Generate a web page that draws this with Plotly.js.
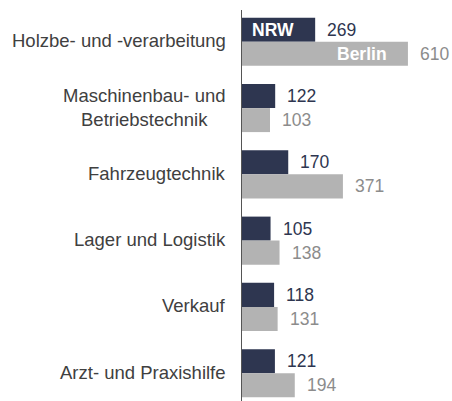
<!DOCTYPE html>
<html>
<head>
<meta charset="utf-8">
<script src="https://cdn.plot.ly/plotly-3.0.1.min.js"></script>
<style>html,body{margin:0;padding:0;background:#fff;}#chart{width:452px;height:401px;}</style>
</head>
<body>
<div id="chart"></div>
<script>
const categories = [
  "Holzbe- und -verarbeitung",
  "Maschinenbau- und<br>Betriebstechnik",
  "Fahrzeugtechnik",
  "Lager und Logistik",
  "Verkauf",
  "Arzt- und Praxishilfe"
];
const nrwValues = [269, 122, 170, 105, 118, 121];
const berlinValues = [610, 103, 371, 138, 131, 194];
const seriesNames = ["NRW", "Berlin"];

const nrwColor = "#2e3650";
const berlinColor = "#b3b3b3";
const font = "Liberation Sans, Arial, sans-serif";

const traces = [
  {type: "bar", orientation: "h", name: seriesNames[0], y: categories, x: nrwValues,
   marker: {color: nrwColor}, hoverinfo: "none"},
  {type: "bar", orientation: "h", name: seriesNames[1], y: categories, x: berlinValues,
   marker: {color: berlinColor}, hoverinfo: "none"}
];

const annotations = [];
// category labels
categories.forEach(c => annotations.push({
  xref: "paper", yref: "y", x: 0, y: c, text: c, showarrow: false,
  xanchor: "right", yanchor: "middle", align: "center", xshift: -14, yshift: 1,
  font: {family: font, size: 18.5, color: "#404040"}
}));
// value labels
categories.forEach((c, i) => {
  annotations.push({x: nrwValues[i], y: c, text: String(nrwValues[i]), showarrow: false,
    xanchor: "left", yanchor: "middle", xshift: 10, yshift: 12,
    font: {family: font, size: 17.5, color: nrwColor}});
  annotations.push({x: berlinValues[i], y: c, text: String(berlinValues[i]), showarrow: false,
    xanchor: "left", yanchor: "middle", xshift: 10, yshift: -12,
    font: {family: font, size: 17.5, color: "#8c8c8c"}});
});
// series names inside first group bars
annotations.push({x: 0, y: categories[0], text: "<b>" + seriesNames[0] + "</b>", showarrow: false,
  xanchor: "left", yanchor: "middle", xshift: 8, yshift: 12,
  font: {family: font, size: 17.5, color: "#ffffff"}});
annotations.push({x: berlinValues[0], y: categories[0], text: "<b>" + seriesNames[1] + "</b>", showarrow: false,
  xanchor: "right", yanchor: "middle", xshift: -19, yshift: -12,
  font: {family: font, size: 17.5, color: "#ffffff"}});

const layout = {
  width: 452, height: 401,
  margin: {l: 242, r: 0, t: 10, b: 0},
  paper_bgcolor: "#fff", plot_bgcolor: "#fff",
  barmode: "group", bargap: 0.275, bargroupgap: 0,
  showlegend: false,
  xaxis: {range: [0, 772], visible: false, fixedrange: true},
  yaxis: {type: "category", range: [5.42, -0.48], showticklabels: false, ticks: "",
    showline: true, linecolor: "#555555", linewidth: 1.5, showgrid: false, zeroline: false, fixedrange: true},
  annotations: annotations
};

Plotly.newPlot("chart", traces, layout, {displayModeBar: false, staticPlot: true});
</script>
</body>
</html>
